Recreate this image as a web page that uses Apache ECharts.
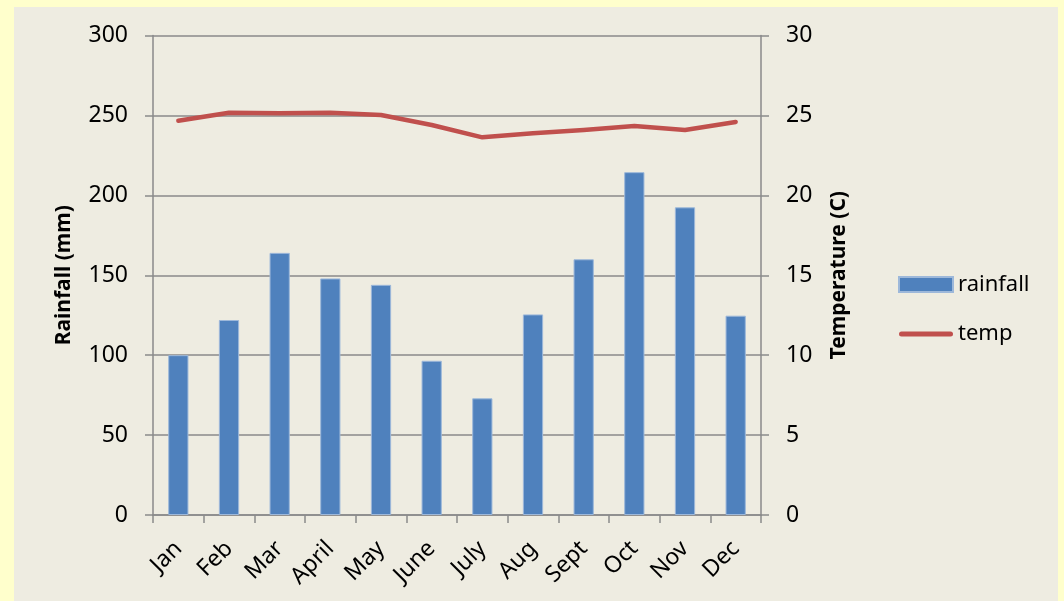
<!DOCTYPE html>
<html>
<head>
<meta charset="utf-8">
<script src="https://cdn.jsdelivr.net/npm/echarts@6/dist/echarts.min.js"></script>
<style>
html,body{margin:0;padding:0;background:#FFFFCC;}
#c{width:1064px;height:601px;}
</style>
</head>
<body>
<div id="c"></div>
<script>
const months = ['Jan','Feb','Mar','April','May','June','July','Aug','Sept','Oct','Nov','Dec'];
const rainfall = [100, 122, 164, 148, 144, 96.5, 73, 125.5, 160, 214.5, 192.5, 124.7];
const temp = [24.67, 25.17, 25.13, 25.17, 25.03, 24.4, 23.63, 23.88, 24.09, 24.34, 24.09, 24.59];
const rainTicks = {min: 0, max: 300, interval: 50};
const tempTicks = {min: 0, max: 30, interval: 5};

const FONT = 'Noto Sans';
const AX = '#8a8a8a';
const chart = echarts.init(document.getElementById('c'), null, {renderer: 'canvas'});
chart.setOption({
  backgroundColor: '#FFFFCC',
  animation: false,
  textStyle: {fontFamily: FONT, color: '#000'},
  graphic: [{
    type: 'rect', left: 14, top: 7, z: -10,
    shape: {width: 1044, height: 594},
    style: {fill: '#EEECE1'}
  }],
  grid: {left: 153, right: 303, top: 35.5, bottom: 86, containLabel: false},
  legend: {
    orient: 'vertical', left: 898, top: 273.5, padding: 0,
    itemWidth: 54, itemHeight: 15, itemGap: 27.5,
    textStyle: {fontFamily: FONT, fontSize: 22, color: '#000'},
    data: [
      {name: 'rainfall', icon: 'rect'},
      {name: 'temp', icon: 'path://M2.5,0 L51.5,0 A2.5,2.5 0 0 1 51.5,5 L2.5,5 A2.5,2.5 0 0 1 2.5,0 Z'}
    ]
  },
  xAxis: {
    type: 'category', data: months, boundaryGap: true,
    axisLine: {lineStyle: {color: AX, width: 1.5}},
    axisTick: {show: true, alignWithLabel: false, length: 8, lineStyle: {color: AX, width: 1.5}},
    axisLabel: {rotate: 45, margin: 30, fontSize: 23, color: '#000', fontFamily: FONT, interval: 0}
  },
  yAxis: [{
    type: 'value', min: rainTicks.min, max: rainTicks.max, interval: rainTicks.interval,
    name: 'Rainfall (mm)', nameLocation: 'middle', nameRotate: 90, nameGap: 78,
    nameTextStyle: {fontSize: 21, fontWeight: 'bold', color: '#000', fontFamily: FONT},
    axisLine: {show: true, lineStyle: {color: AX, width: 1.5}},
    axisTick: {show: true, length: 8, lineStyle: {color: AX, width: 1.5}},
    axisLabel: {margin: 25, fontSize: 23, color: '#000', fontFamily: FONT},
    splitLine: {show: true, lineStyle: {color: AX, width: 1.5}}
  }, {
    type: 'value', min: tempTicks.min, max: tempTicks.max, interval: tempTicks.interval,
    position: 'right',
    name: 'Temperature (C)', nameLocation: 'middle', nameRotate: 90, nameGap: 68,
    nameTextStyle: {fontSize: 21, fontWeight: 'bold', color: '#000', fontFamily: FONT},
    axisLine: {show: true, lineStyle: {color: AX, width: 1.5}},
    axisTick: {show: true, length: 8, lineStyle: {color: AX, width: 1.5}},
    axisLabel: {margin: 25, fontSize: 23, color: '#000', fontFamily: FONT},
    splitLine: {show: false}
  }],
  series: [{
    name: 'rainfall', type: 'bar', data: rainfall, yAxisIndex: 0,
    barWidth: '40%',
    itemStyle: {color: '#4F81BD', borderColor: '#9DB8DA', borderWidth: 1}
  }, {
    name: 'temp', type: 'line', data: temp, yAxisIndex: 1,
    symbol: 'none', showSymbol: false, smooth: false,
    lineStyle: {color: '#C0504D', width: 4.5, cap: 'round', join: 'round'},
    itemStyle: {color: '#C0504D'}
  }]
});
</script>
</body>
</html>
